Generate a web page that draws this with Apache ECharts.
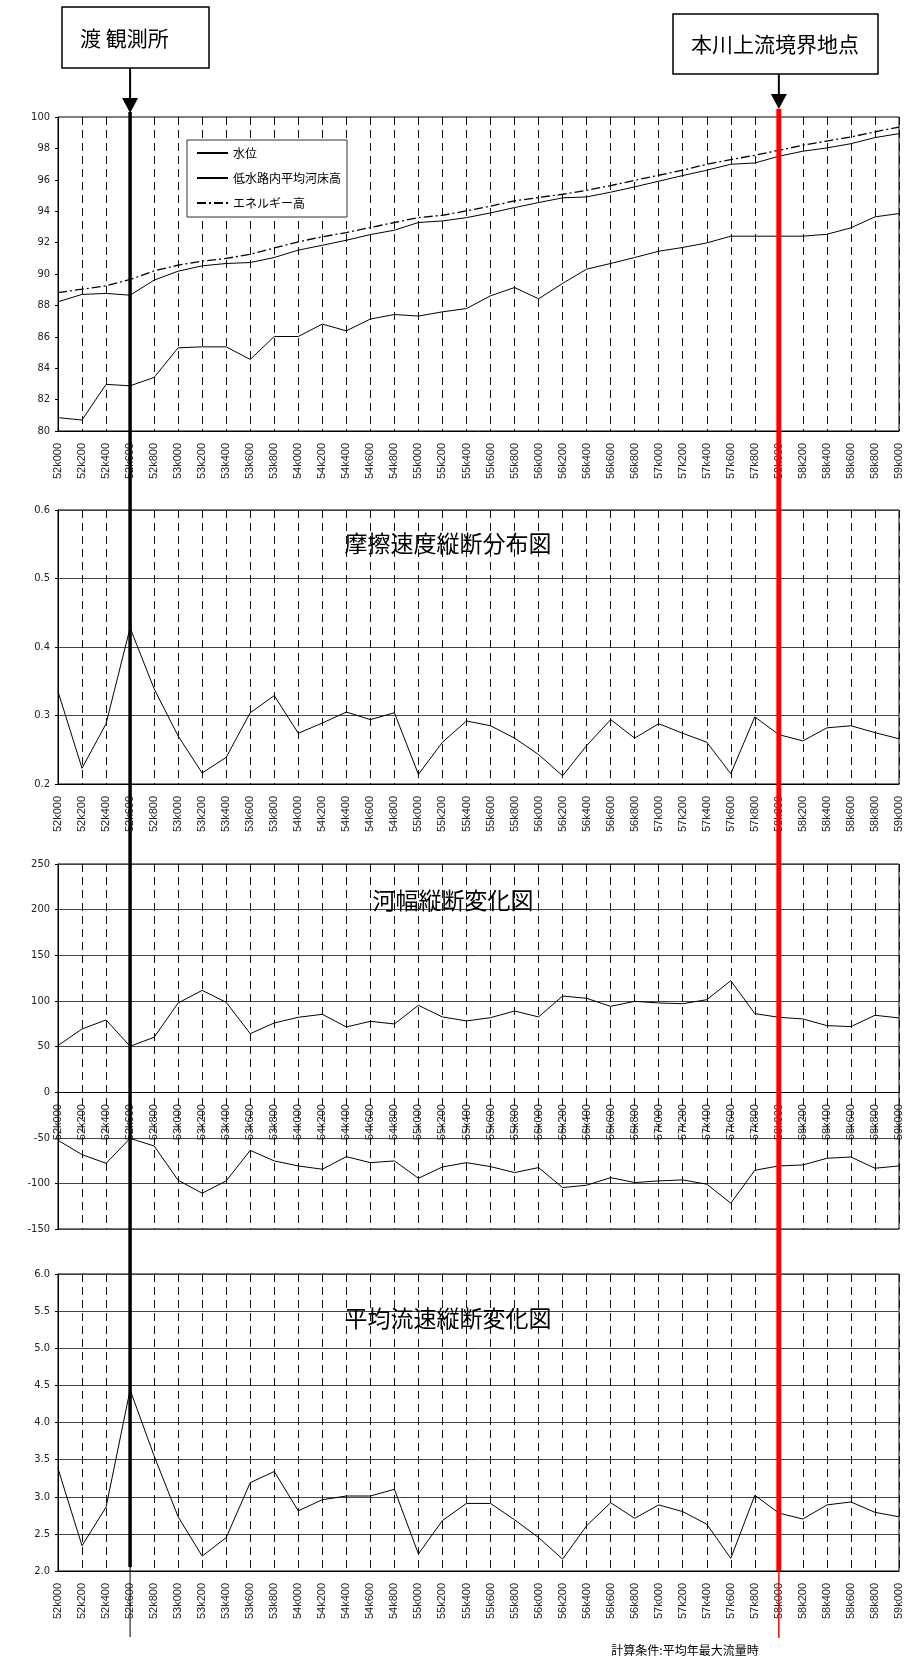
<!DOCTYPE html>
<html>
<head>
<meta charset="utf-8">
<script src="https://cdn.jsdelivr.net/npm/echarts@6/dist/echarts.min.js"></script>
<style>
html, body { margin: 0; padding: 0; background: #fff; }
#chart { width: 921px; height: 1661px; }
</style>
</head>
<body>
<div id="chart"></div>
<script>
// Survey stations along the river (distance markers)
const stations = ['52k000','52k200','52k400','52k600','52k800','53k000','53k200','53k400','53k600','53k800',
  '54k000','54k200','54k400','54k600','54k800','55k000','55k200','55k400','55k600','55k800',
  '56k000','56k200','56k400','56k600','56k800','57k000','57k200','57k400','57k600','57k800',
  '58k000','58k200','58k400','58k600','58k800','59k000'];

// Longitudinal profile (m)
const waterLevel = [88.23,88.70,88.76,88.65,89.61,90.18,90.52,90.67,90.73,91.05,
  91.52,91.83,92.15,92.51,92.79,93.28,93.38,93.59,93.89,94.23,
  94.55,94.85,94.91,95.21,95.55,95.91,96.27,96.61,96.99,97.07,
  97.50,97.82,98.03,98.30,98.69,98.94];
const bedElevation = [80.85,80.70,82.97,82.88,83.41,85.30,85.36,85.36,84.56,86.02,
  86.02,86.81,86.38,87.13,87.42,87.32,87.59,87.80,88.61,89.14,
  88.42,89.40,90.31,90.67,91.05,91.45,91.69,91.98,92.41,92.41,
  92.41,92.41,92.53,92.94,93.64,93.85];
const energyHead = [88.82,89.03,89.25,89.65,90.20,90.56,90.82,90.99,91.26,91.66,
  92.05,92.37,92.64,92.96,93.28,93.59,93.74,94.02,94.32,94.66,
  94.87,95.08,95.33,95.63,95.97,96.29,96.61,96.99,97.29,97.56,
  97.88,98.20,98.47,98.73,99.05,99.36];

// Friction velocity (m/s)
const frictionVelocity = [0.335,0.223,0.288,0.428,0.339,0.270,0.216,0.239,0.304,0.329,
  0.274,0.289,0.305,0.294,0.304,0.214,0.261,0.292,0.285,0.267,
  0.243,0.212,0.256,0.294,0.267,0.288,0.274,0.261,0.215,0.298,
  0.272,0.263,0.282,0.285,0.275,0.266];

// River width, measured from the centre line to each bank (m)
const widthUpper = [51.0,69.2,79.1,50.3,60.1,97.7,111.5,98.4,64.1,75.8,
  82.0,85.3,71.4,77.6,74.7,95.1,82.4,78.0,81.6,88.9,
  82.4,105.3,102.8,94.0,99.5,97.7,96.9,101.3,122.1,86.0,
  82.0,80.2,72.9,71.8,84.2,81.3];
const widthLower = [-52.8,-68.5,-78.0,-50.7,-59.0,-96.6,-110.8,-97.3,-63.8,-75.4,
  -80.9,-84.5,-70.7,-77.3,-75.4,-94.4,-82.0,-77.3,-81.6,-88.2,
  -82.7,-104.6,-102.0,-93.7,-99.1,-97.3,-96.2,-100.9,-121.7,-85.6,
  -80.9,-79.8,-72.5,-71.1,-83.4,-80.9];

// Mean flow velocity (m/s)
const meanVelocity = [3.38,2.34,2.86,4.44,3.55,2.73,2.20,2.45,3.19,3.34,
  2.81,2.96,3.01,3.01,3.10,2.23,2.68,2.91,2.91,2.69,
  2.45,2.16,2.61,2.92,2.71,2.89,2.80,2.63,2.17,3.02,
  2.78,2.70,2.89,2.93,2.79,2.73];

const gaugeStation = '52k600';
const boundaryStation = '58k000';

const NARROW = '"Liberation Sans Narrow","Arial Narrow","DejaVu Sans Condensed","Liberation Sans",sans-serif';
const SANS = '"Liberation Sans",Arial,sans-serif';
const CJK = '"Noto Sans CJK JP","Noto Sans",sans-serif';

// value ranges of the four panels
const ranges = [
  { min: 80, max: 100, interval: 2, digits: 0, split: false },
  { min: 0.2, max: 0.6, interval: 0.1, digits: 1, split: true },
  { min: -150, max: 250, interval: 50, digits: 0, split: true },
  { min: 2, max: 6, interval: 0.5, digits: 1, split: true }
];

const grids = [
  { left: 58, right: 22, top: 117, height: 314 },
  { left: 58, right: 22, top: 510, height: 274 },
  { left: 58, right: 22, top: 864, height: 365 },
  { left: 58, right: 22, top: 1274, height: 297 }
].map(g => Object.assign({ show: true, borderColor: '#000', borderWidth: 1, backgroundColor: 'transparent' }, g));

// the width panel carries its station labels on the zero line
function zeroOffset(i) {
  const r = ranges[i];
  if (r.min >= 0) return 0;
  return -grids[i].height * (0 - r.min) / (r.max - r.min);
}

function xAxisFor(i) {
  return {
    type: 'category', gridIndex: i, data: stations, boundaryGap: false,
    position: 'bottom', offset: zeroOffset(i),
    axisLine: { onZero: false, lineStyle: { color: '#000', width: 1 } },
    axisTick: { show: false },
    axisLabel: { rotate: 90, interval: 0, margin: 12, fontSize: 11, fontFamily: SANS, color: '#222' },
    splitLine: { show: true, interval: 0, lineStyle: { color: '#111', width: 1, type: [8, 5] } }
  };
}

function yAxisFor(i) {
  const r = ranges[i];
  return {
    type: 'value', gridIndex: i, min: r.min, max: r.max, interval: r.interval,
    axisLine: { show: true, lineStyle: { color: '#000', width: 1 } },
    axisTick: { show: true, length: 3, lineStyle: { color: '#000' } },
    axisLabel: { fontSize: 11, fontFamily: NARROW, color: '#222', margin: 8,
      formatter: v => v.toFixed(r.digits) },
    splitLine: { show: r.split, lineStyle: { color: '#444', width: 1 } }
  };
}

function lineSeries(name, data, axis, lineType, width) {
  return {
    type: 'line', name: name, data: data, xAxisIndex: axis, yAxisIndex: axis,
    symbol: 'none', silent: true,
    lineStyle: { color: '#000', width: width || 1, type: lineType || 'solid' },
    itemStyle: { color: '#000' }
  };
}

const chart = echarts.init(document.getElementById('chart'), null, { renderer: 'canvas' });

chart.setOption({
  animation: false,
  backgroundColor: '#fff',
  grid: grids,
  xAxis: [0, 1, 2, 3].map(xAxisFor),
  yAxis: [0, 1, 2, 3].map(yAxisFor),
  legend: {
    data: ['水位', '低水路内平均河床高', 'エネルギー高'],
    orient: 'vertical', left: 187, top: 140,
    itemWidth: 31, itemHeight: 14, itemGap: 13,
    padding: [7, 6, 8, 9],
    borderColor: '#333', borderWidth: 1, backgroundColor: '#fff',
    selectedMode: false,
    itemStyle: { color: 'rgba(0,0,0,0)', borderWidth: 0, opacity: 0 },
    textStyle: { fontSize: 12, fontFamily: CJK, color: '#000' }
  },
  series: [
    lineSeries('水位', waterLevel, 0),
    lineSeries('低水路内平均河床高', bedElevation, 0),
    lineSeries('エネルギー高', energyHead, 0, [9, 3, 2, 3], 1.3),
    lineSeries('摩擦速度', frictionVelocity, 1),
    lineSeries('河幅(上)', widthUpper, 2),
    lineSeries('河幅(下)', widthLower, 2),
    lineSeries('平均流速', meanVelocity, 3)
  ]
});

// Station markers and panel titles, placed from the axis scale
const gx = chart.convertToPixel({ xAxisIndex: 0 }, gaugeStation);
const bx = chart.convertToPixel({ xAxisIndex: 0 }, boundaryStation);
const lastBottom = grids[3].top + grids[3].height;

function panelTitle(text, cx, cy) {
  return { type: 'text', z: 50, style: { text: text, x: cx, y: cy, align: 'center', verticalAlign: 'middle',
    font: '23px ' + CJK, fill: '#000' } };
}

chart.setOption({
  graphic: [
    panelTitle('摩擦速度縦断分布図', 448, 543),
    panelTitle('河幅縦断変化図', 453, 900),
    panelTitle('平均流速縦断変化図', 448, 1318),
    { type: 'text', z: 50, style: { text: '計算条件:平均年最大流量時', x: 685, y: 1650, align: 'center', verticalAlign: 'middle',
      font: '12px ' + CJK, fill: '#000' } },

    // gauging station marker
    { type: 'rect', z: 60, shape: { x: 62, y: 7, width: 147, height: 61 }, style: { fill: '#fff', stroke: '#000', lineWidth: 1.5 } },
    { type: 'text', z: 61, style: { text: '渡 観測所', x: 80, y: 38, verticalAlign: 'middle', font: '21px ' + CJK, fill: '#000' } },
    { type: 'line', z: 60, shape: { x1: gx, y1: 68, x2: gx, y2: 100 }, style: { stroke: '#000', lineWidth: 2 } },
    { type: 'polygon', z: 60, shape: { points: [[gx - 8, 98], [gx + 8, 98], [gx, 113]] }, style: { fill: '#000' } },
    { type: 'line', z: 60, shape: { x1: gx, y1: 112, x2: gx, y2: lastBottom - 4 }, style: { stroke: '#000', lineWidth: 3.5 } },
    { type: 'line', z: 60, shape: { x1: gx, y1: lastBottom - 4, x2: gx, y2: 1637 }, style: { stroke: '#000', lineWidth: 1 } },

    // upstream boundary marker
    { type: 'rect', z: 60, shape: { x: 673, y: 14, width: 205, height: 60 }, style: { fill: '#fff', stroke: '#000', lineWidth: 1.5 } },
    { type: 'text', z: 61, style: { text: '本川上流境界地点', x: 775, y: 44, align: 'center', verticalAlign: 'middle', font: '21px ' + CJK, fill: '#000' } },
    { type: 'line', z: 60, shape: { x1: bx, y1: 74, x2: bx, y2: 96 }, style: { stroke: '#000', lineWidth: 2 } },
    { type: 'polygon', z: 60, shape: { points: [[bx - 8, 94], [bx + 8, 94], [bx, 109]] }, style: { fill: '#000' } },
    { type: 'line', z: 60, shape: { x1: bx, y1: 109, x2: bx, y2: lastBottom }, style: { stroke: '#ff0000', lineWidth: 5 } },
    { type: 'line', z: 60, shape: { x1: bx, y1: lastBottom, x2: bx, y2: 1638 }, style: { stroke: '#ff0000', lineWidth: 1.5 } }
  ]
});
</script>
</body>
</html>
